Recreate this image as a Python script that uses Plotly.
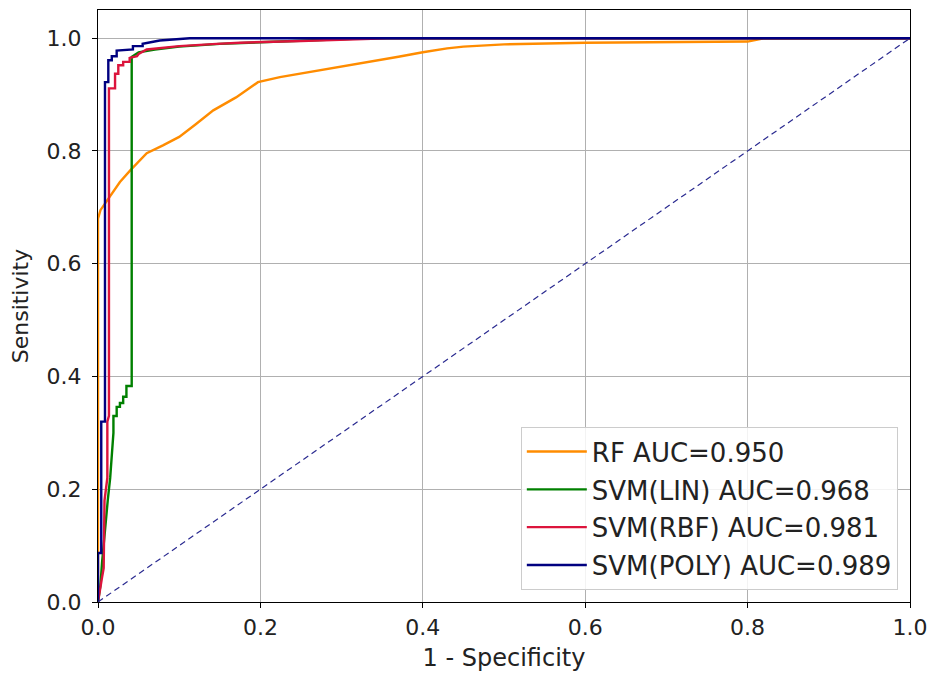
import plotly.graph_objects as go

# ROC curve points (false positive rate, true positive rate) per model
rf_fpr = [0, 0, 0.003, 0.015, 0.027, 0.04, 0.06, 0.08, 0.10, 0.12, 0.142, 0.17, 0.197,
          0.224, 0.27, 0.32, 0.37, 0.40, 0.43, 0.45, 0.50, 0.60, 0.70, 0.80, 0.82, 1.0]
rf_tpr = [0, 0.68, 0.695, 0.72, 0.745, 0.766, 0.796, 0.81, 0.825, 0.847, 0.872, 0.895, 0.922,
          0.931, 0.942, 0.955, 0.967, 0.975, 0.982, 0.985, 0.989, 0.992, 0.993, 0.994, 1.0, 1.0]

lin_fpr = [0, 0.003, 0.005, 0.008, 0.012, 0.015, 0.019, 0.019, 0.023, 0.023, 0.027, 0.027,
           0.031, 0.031, 0.035, 0.035, 0.0415, 0.0415, 0.05, 0.07, 0.10, 0.15, 0.20, 0.25, 0.33, 1.0]
lin_tpr = [0, 0.03, 0.07, 0.12, 0.18, 0.22, 0.30, 0.33, 0.33, 0.346, 0.346, 0.353,
           0.353, 0.364, 0.364, 0.383, 0.383, 0.967, 0.975, 0.98, 0.985, 0.99, 0.993, 0.996, 1.0, 1.0]

rbf_fpr = [0, 0.002, 0.005, 0.007, 0.008, 0.0115, 0.0115, 0.0135, 0.0135, 0.021, 0.021, 0.025,
           0.025, 0.031, 0.031, 0.039, 0.039, 0.048, 0.05, 0.06, 0.08, 0.10, 0.146, 0.175, 0.25,
           0.356, 1.0]
rbf_tpr = [0, 0.02, 0.044, 0.06, 0.18, 0.22, 0.32, 0.33, 0.911, 0.911, 0.937, 0.937,
           0.952, 0.952, 0.958, 0.958, 0.965, 0.968, 0.972, 0.980, 0.983, 0.986, 0.99, 0.992, 0.995,
           1.0, 1.0]

poly_fpr = [0, 0, 0.004, 0.004, 0.0086, 0.0086, 0.0127, 0.0127, 0.017, 0.017, 0.023, 0.023,
            0.043, 0.043, 0.055, 0.055, 0.076, 0.113, 1.0]
poly_tpr = [0, 0.087, 0.087, 0.32, 0.32, 0.922, 0.922, 0.961, 0.961, 0.968, 0.968, 0.978,
            0.980, 0.986, 0.986, 0.99, 0.996, 1.0, 1.0]

series_names = ["RF AUC=0.950", "SVM(LIN) AUC=0.968", "SVM(RBF) AUC=0.981", "SVM(POLY) AUC=0.989"]
series_colors = ["#ff8c00", "#008000", "#dc143c", "#000080"]

x_ticks = [0.0, 0.2, 0.4, 0.6, 0.8, 1.0]
y_ticks = [0.0, 0.2, 0.4, 0.6, 0.8, 1.0]

fig = go.Figure()

curves = [(rf_fpr, rf_tpr), (lin_fpr, lin_tpr), (rbf_fpr, rbf_tpr), (poly_fpr, poly_tpr)]
for (fx, ty), name, color in zip(curves, series_names, series_colors):
    fig.add_trace(go.Scatter(
        x=fx, y=ty, mode="lines", name=name, legendgroup=name,
        line=dict(color=color, width=2.4),
    ))

# chance line
fig.add_trace(go.Scatter(
    x=[0, 1], y=[0, 1], mode="lines", showlegend=False,
    line=dict(color="#2a2a90", width=1.2, dash="6px,4px"),
))

axis_common = dict(
    showline=True, linecolor="black", linewidth=1.2, mirror=True,
    ticks="outside", ticklen=5, tickwidth=1.2, tickcolor="black",
    showgrid=True, gridcolor="#b0b0b0", gridwidth=1,
    zeroline=False,
    tickfont=dict(family="DejaVu Sans", size=22, color="#222222"),
)

fig.update_layout(
    width=932, height=677,
    margin=dict(l=98, r=22, t=10, b=75, autoexpand=False),
    paper_bgcolor="white", plot_bgcolor="white",
    font=dict(family="DejaVu Sans", color="#222222"),
    xaxis=dict(range=[0, 1], tickvals=x_ticks, ticktext=[f"{v:.1f}" for v in x_ticks],
               title=dict(text="1 - Specificity", font=dict(size=24), standoff=10),
               **axis_common),
    yaxis=dict(range=[0, 1.05], tickvals=y_ticks, ticktext=[f"{v:.1f}" for v in y_ticks],
               ticklabelstandoff=6,
               title=dict(text="Sensitivity", font=dict(size=22), standoff=11),
               **axis_common),
    legend=dict(
        x=0.985, y=0.02, xanchor="right", yanchor="bottom",
        bgcolor="rgba(255,255,255,0.85)", bordercolor="#cccccc", borderwidth=1,
        font=dict(family="DejaVu Sans", size=26, color="#222222"),
        itemwidth=60, tracegroupgap=1,
    ),
    showlegend=True,
)

fig.write_html("out.html")
